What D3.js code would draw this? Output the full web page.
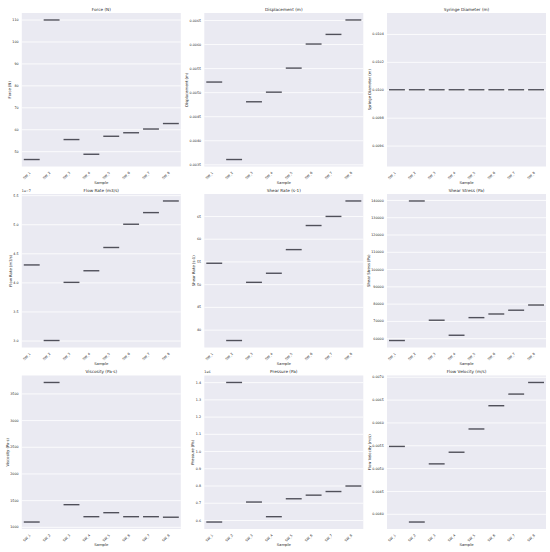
<!DOCTYPE html>
<html><head><meta charset="utf-8">
<script src="https://cdn.jsdelivr.net/npm/d3@7"></script>
<style>
html,body{margin:0;padding:0;background:#fff;}
svg{display:block;font-family:"DejaVu Sans",sans-serif;}
</style></head>
<body><svg id="c" width="550" height="552"></svg>
<script>
const samples = ["SW_1","SW_2","SW_3","SW_4","SW_5","SW_6","SW_7","SW_8"];

const force = [46.2, 109.8, 55.3, 48.6, 56.8, 58.4, 60.1, 62.6];
const displacement = [0.00521, 0.00360, 0.00480, 0.00500, 0.00550, 0.00600, 0.00620, 0.00650];
const syringeDiameter = [0.01, 0.01, 0.01, 0.01, 0.01, 0.01, 0.01, 0.01];
const flowRate = [4.3e-7, 3.0e-7, 4.0e-7, 4.2e-7, 4.6e-7, 5.0e-7, 5.2e-7, 5.4e-7];
const shearRate = [54.6, 37.6, 50.4, 52.4, 57.6, 62.9, 64.9, 68.3];
const shearStress = [58650, 139400, 70400, 61700, 71900, 74000, 76200, 79200];
const viscosity = [1090, 3705, 1415, 1190, 1265, 1190, 1190, 1180];
const pressure = [588000, 1398000, 704000, 619000, 723000, 744000, 765000, 797000];
const flowVelocity = [0.005475, 0.00382, 0.005093, 0.005348, 0.005857, 0.006366, 0.006621, 0.006875];

const forceTicks = [50, 60, 70, 80, 90, 100, 110];
const displacementTicks = [0.0035, 0.0040, 0.0045, 0.0050, 0.0055, 0.0060, 0.0065];
const syringeTicks = [0.0096, 0.0098, 0.0100, 0.0102, 0.0104];
const flowRateTicks = [3.0e-7, 3.5e-7, 4.0e-7, 4.5e-7, 5.0e-7, 5.5e-7];
const shearRateTicks = [40, 45, 50, 55, 60, 65];
const shearStressTicks = [60000, 70000, 80000, 90000, 100000, 110000, 120000, 130000, 140000];
const viscosityTicks = [1000, 1500, 2000, 2500, 3000, 3500];
const pressureTicks = [0.6e6, 0.7e6, 0.8e6, 0.9e6, 1.0e6, 1.1e6, 1.2e6, 1.3e6, 1.4e6];
const flowVelocityTicks = [0.0040, 0.0045, 0.0050, 0.0055, 0.0060, 0.0065, 0.0070];

const titles = ["Force (N)", "Displacement (m)", "Syringe Diameter (m)",
  "Flow Rate (m3/s)", "Shear Rate (s-1)", "Shear Stress (Pa)",
  "Viscosity (Pa·s)", "Pressure (Pa)", "Flow Velocity (m/s)"];

const panels = [
  {values: force, ticks: forceTicks, fmt: d => d3.format("d")(d)},
  {values: displacement, ticks: displacementTicks, fmt: d => d.toFixed(4)},
  {values: syringeDiameter, ticks: syringeTicks, fmt: d => d.toFixed(4)},
  {values: flowRate, ticks: flowRateTicks, fmt: d => (d * 1e7).toFixed(1), offset: "1e\u22127"},
  {values: shearRate, ticks: shearRateTicks, fmt: d => d3.format("d")(d)},
  {values: shearStress, ticks: shearStressTicks, fmt: d => d3.format("d")(d)},
  {values: viscosity, ticks: viscosityTicks, fmt: d => d3.format("d")(d)},
  {values: pressure, ticks: pressureTicks, fmt: d => (d / 1e6).toFixed(1), offset: "1e6"},
  {values: flowVelocity, ticks: flowVelocityTicks, fmt: d => d.toFixed(4)}
];

const colLeft = [21.8, 204.3, 387.0];
const rowTop = [13, 194, 375.5];
const PW = 159, PH = 153.5;
const txt = "#262626";

const svg = d3.select("#c");

panels.forEach((p, i) => {
  const L = colLeft[i % 3], T = rowTop[Math.floor(i / 3)];
  const g = svg.append("g");
  let lo = d3.min(p.values), hi = d3.max(p.values);
  if (lo === hi) { lo = lo - Math.abs(lo) * 0.05; hi = hi + Math.abs(hi) * 0.05; }
  const m = (hi - lo) * 0.05;
  const y = d3.scaleLinear().domain([lo - m, hi + m]).range([T + PH, T]);
  const x = d3.scaleBand().domain(samples).range([L, L + PW]).padding(0);

  g.append("rect").attr("x", L).attr("y", T).attr("width", PW).attr("height", PH).attr("fill", "#EAEAF2");

  // grid
  const grid = g.append("g").attr("transform", `translate(${L},0)`)
    .call(d3.axisLeft(y).tickValues(p.ticks).tickSize(-PW).tickFormat(""));
  grid.select(".domain").remove();
  grid.selectAll("line").attr("stroke", "#fff").attr("stroke-width", 0.8);

  // y axis labels
  const ya = g.append("g").attr("transform", `translate(${L},0)`)
    .call(d3.axisLeft(y).tickValues(p.ticks).tickSize(0).tickPadding(3.2).tickFormat(p.fmt));
  ya.select(".domain").remove();
  ya.selectAll("text").attr("font-size", 3.3).attr("fill", txt).attr("font-family", "DejaVu Sans");
  const bb = ya.node().getBBox();
  const tickLeft = L + bb.x;

  // x axis
  const xa = g.append("g").attr("transform", `translate(0,${T + PH})`)
    .call(d3.axisBottom(x).tickSize(0).tickPadding(0));
  xa.select(".domain").remove();
  xa.selectAll("text")
    .attr("font-size", 3.3).attr("fill", txt).attr("font-family", "DejaVu Sans")
    .attr("text-anchor", "end").attr("dy", null).attr("y", null)
    .attr("transform", "translate(-0.9,6.5) rotate(-45)");

  // boxes (single-value => median line)
  g.append("g").selectAll("line").data(p.values).join("line")
    .attr("x1", (d, j) => x(samples[j]) + x.bandwidth() * 0.1)
    .attr("x2", (d, j) => x(samples[j]) + x.bandwidth() * 0.9)
    .attr("y1", d => y(d)).attr("y2", d => y(d))
    .attr("stroke", "#50505a").attr("stroke-width", 1.4);

  // title
  g.append("text").attr("x", L + PW / 2).attr("y", T - 2.5).attr("text-anchor", "middle")
    .attr("font-size", 4.2).attr("fill", txt).text(titles[i]);
  // x label
  g.append("text").attr("x", L + PW / 2).attr("y", T + PH + 17).attr("text-anchor", "middle")
    .attr("font-size", 3.8).attr("fill", txt).text("Sample");
  // y label
  g.append("text").attr("transform", `translate(${tickLeft - 1.6},${T + PH / 2}) rotate(-90)`)
    .attr("text-anchor", "middle").attr("font-size", 3.8).attr("fill", txt).text(titles[i]);
  if (p.offset) {
    g.append("text").attr("x", L).attr("y", T - 2.3).attr("font-size", 3.3).attr("fill", txt).text(p.offset);
  }
});
</script></body></html>
